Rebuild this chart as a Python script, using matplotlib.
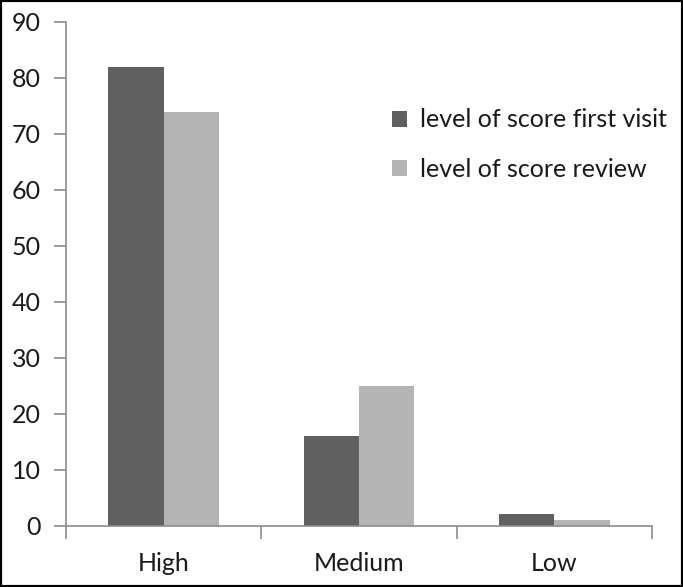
import numpy as np
import matplotlib.pyplot as plt
from matplotlib.patches import Rectangle

categories = ['High', 'Medium', 'Low']
first_visit = [82, 16, 2]
review = [74, 25, 1]
series_names = ['level of score first visit', 'level of score review']

plt.rcParams['font.family'] = ['Lato', 'DejaVu Sans']

fig = plt.figure(figsize=(6.83, 5.87), dpi=100)
ax = fig.add_axes([66 / 683, 1 - 525.5 / 587, (652 - 66) / 683, (525.5 - 22) / 587])

x = np.arange(len(categories))
w = 0.284
ax.bar(x - w / 2, first_visit, w, color='#606060', label=series_names[0])
ax.bar(x + w / 2, review, w, color='#b4b4b4', label=series_names[1])

ax.set_xlim(-0.5, len(categories) - 0.5)
ax.set_ylim(0, 90)
ax.set_yticks(range(0, 91, 10))
ax.set_xticks(x)
ax.set_xticklabels(categories)
ax.set_xticks(np.arange(-0.5, len(categories), 1), minor=True)

for side in ['top', 'right']:
    ax.spines[side].set_visible(False)
for side in ['left', 'bottom']:
    ax.spines[side].set_color('#8c8c8c')
    ax.spines[side].set_linewidth(1.2)

ax.tick_params(axis='y', direction='out', length=9, width=1.2, color='#8c8c8c',
               labelsize=18, labelcolor='#1a1a1a', pad=9)
ax.tick_params(axis='x', which='major', length=0, labelsize=18,
               labelcolor='#1a1a1a', pad=19)
ax.tick_params(axis='x', which='minor', direction='out', length=9, width=1.2,
               color='#8c8c8c')

ax.legend(loc='upper left', bbox_to_anchor=(0.518, 0.873), frameon=False,
          fontsize=18, handlelength=0.6, handleheight=0.6, handletextpad=0.5,
          labelspacing=1.05, labelcolor='#1a1a1a')

fig.patches.append(Rectangle((0, 0), 1, 1, transform=fig.transFigure,
                             fill=False, edgecolor='black', linewidth=3))

fig.savefig('out.png', dpi=100)
